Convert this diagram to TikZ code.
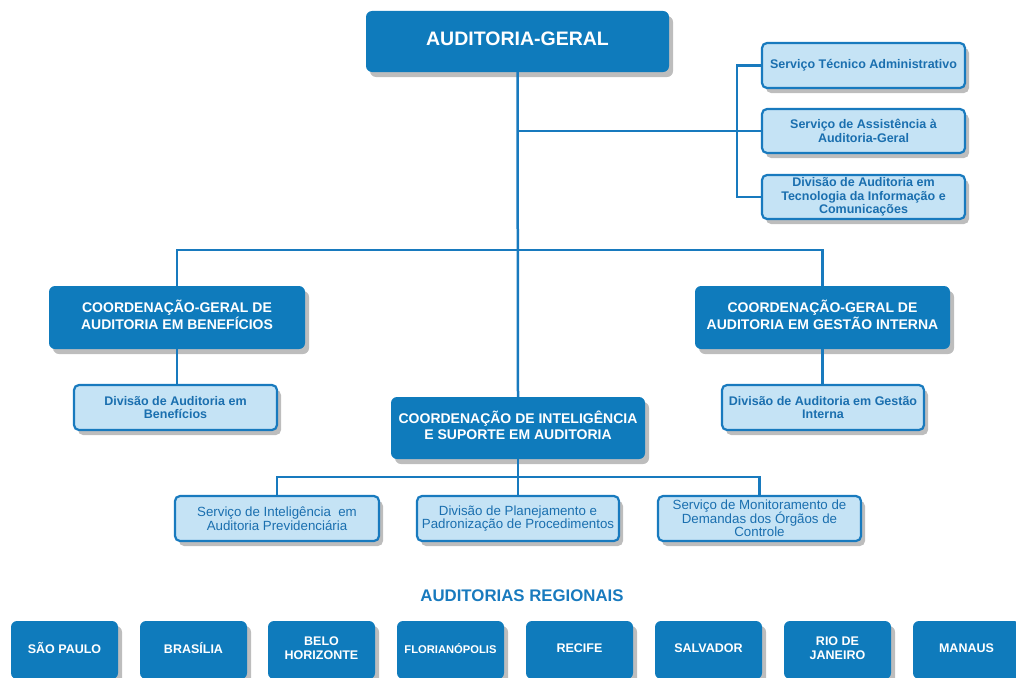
\documentclass[tikz,border=0pt]{standalone}
\usepackage{fontspec}
\setmainfont{Liberation Sans}
\usetikzlibrary{shadows}
\definecolor{dark}{RGB}{15,123,188}
\definecolor{lightfill}{RGB}{197,227,245}
\definecolor{bordc}{RGB}{24,122,190}
\definecolor{lighttext}{RGB}{26,111,175}
\newcommand{\upbox}[1]{\raisebox{3pt}{\begin{tabular}{@{}c@{}}#1\end{tabular}}}
\newcommand{\tightls}{\lineskiplimit=-6pt\relax}
\tikzset{
  shad/.style={drop shadow={shadow xshift=4pt,shadow yshift=-5pt,opacity=0.4,fill=black!65}},
  darkbox/.style={fill=dark,rounded corners=6pt,text=white,align=center,inner sep=0pt,shad,
     font=\bfseries\fontsize{14}{16}\selectfont},
  lightbox/.style={fill=lightfill,draw=bordc,line width=2.2pt,rounded corners=5pt,text=lighttext,
     align=center,inner sep=0pt,shad,font=\bfseries\fontsize{12.5}{13.5}\selectfont\tightls},
  lightreg/.style={lightbox,font=\fontsize{13.3}{13.5}\selectfont\tightls},
  regbox/.style={darkbox,minimum width=107pt,minimum height=58pt,font=\bfseries\fontsize{12.5}{13.5}\selectfont},
  conn/.style={draw=bordc,line width=2.5pt},
}
\begin{document}
\begin{tikzpicture}[x=1pt,y=-1pt]
\useasboundingbox (0,0) rectangle (1016,677);
\coordinate (jA) at (518,250);
\coordinate (jB) at (518,131);
\coordinate (jR) at (737,131);
\coordinate (jC) at (518,477);

% top
\node[darkbox,minimum width=303pt,minimum height=61pt,font=\bfseries\fontsize{19.5}{22}\selectfont] (ag) at (517.5,41.5) {\upbox{AUDITORIA-GERAL}};

% right staff boxes
\node[lightbox,minimum width=203pt,minimum height=45pt] (sta) at (863.5,65.5) {Serviço Técnico Administrativo};
\node[lightbox,minimum width=203pt,minimum height=44pt] (saa) at (863.5,131) {Serviço de Assistência à\\Auditoria-Geral};
\node[lightbox,minimum width=203pt,minimum height=44pt] (dti) at (863.5,197) {Divisão de Auditoria em\\Tecnologia da Informação e\\Comunicações};

% coordinations
\node[darkbox,minimum width=256pt,minimum height=63pt] (cgb) at (177,317.5) {\upbox{COORDENAÇÃO-GERAL DE\\AUDITORIA EM BENEFÍCIOS}};
\node[darkbox,minimum width=255pt,minimum height=63pt] (cgi) at (822.5,317.5) {\upbox{COORDENAÇÃO-GERAL DE\\AUDITORIA EM GESTÃO INTERNA}};
\node[darkbox,minimum width=254pt,minimum height=62pt] (cis) at (518,428) {\upbox{COORDENAÇÃO DE INTELIGÊNCIA\\E SUPORTE EM AUDITORIA}};

\node[lightbox,minimum width=203pt,minimum height=45pt] (dab) at (175.5,407.5) {Divisão de Auditoria em\\Benefícios};
\node[lightbox,minimum width=202pt,minimum height=45pt] (dag) at (823,407.5) {Divisão de Auditoria em Gestão\\Interna};

% bottom services
\node[lightreg,minimum width=204pt,minimum height=45pt] (sip) at (277,518.5) {Serviço de Inteligência \ em\\Auditoria Previdenciária};
\node[lightreg,minimum width=202pt,minimum height=45pt] (dpp) at (518,518.5) {Divisão de Planejamento e\\Padronização de Procedimentos};
\node[lightreg,minimum width=203pt,minimum height=45pt] (smd) at (759.5,518.5) {Serviço de Monitoramento de\\Demandas dos Órgãos de\\Controle};

% regional title
\node[text=bordc,font=\bfseries\fontsize{16.8}{19}\selectfont,inner sep=0pt] (tit) at (522,596) {AUDITORIAS REGIONAIS};

% regional boxes
\node[regbox] (r1) at (64.5,650) {\upbox{SÃO PAULO}};
\node[regbox] (r2) at (193.5,650) {\upbox{BRASÍLIA}};
\node[regbox] (r3) at (321.5,650) {\upbox{BELO\\HORIZONTE}};
\node[regbox,font=\bfseries\fontsize{11.2}{13}\selectfont] (r4) at (450.5,650) {\upbox{FLORIANÓPOLIS}};
\node[regbox] (r5) at (579.5,650) {\upbox{RECIFE}};
\node[regbox] (r6) at (708.5,650) {\upbox{SALVADOR}};
\node[regbox] (r7) at (837.5,650) {\upbox{RIO DE\\JANEIRO}};
\node[regbox] (r8) at (966.5,650) {\upbox{MANAUS}};

% connectors
\path[conn] (ag.south) -- (cis.north);
\path[conn] (jB) -- (jR);
\path[conn] (sta.west) -| (jR) |- (dti.west);
\path[conn] (jR) -- (saa.west);
\path[conn] (cgb.north) |- (jA) -| (cgi.north);
\path[conn] (cgb.south) -- (dab.north -| cgb.south);
\path[conn] (cgi.south) -- (dag.north -| cgi.south);
\path[conn] (cis.south) -- (jC);
\path[conn] (sip.north) |- (jC) -| (smd.north);
\path[conn] (jC) -- (dpp.north);
\end{tikzpicture}
\end{document}
